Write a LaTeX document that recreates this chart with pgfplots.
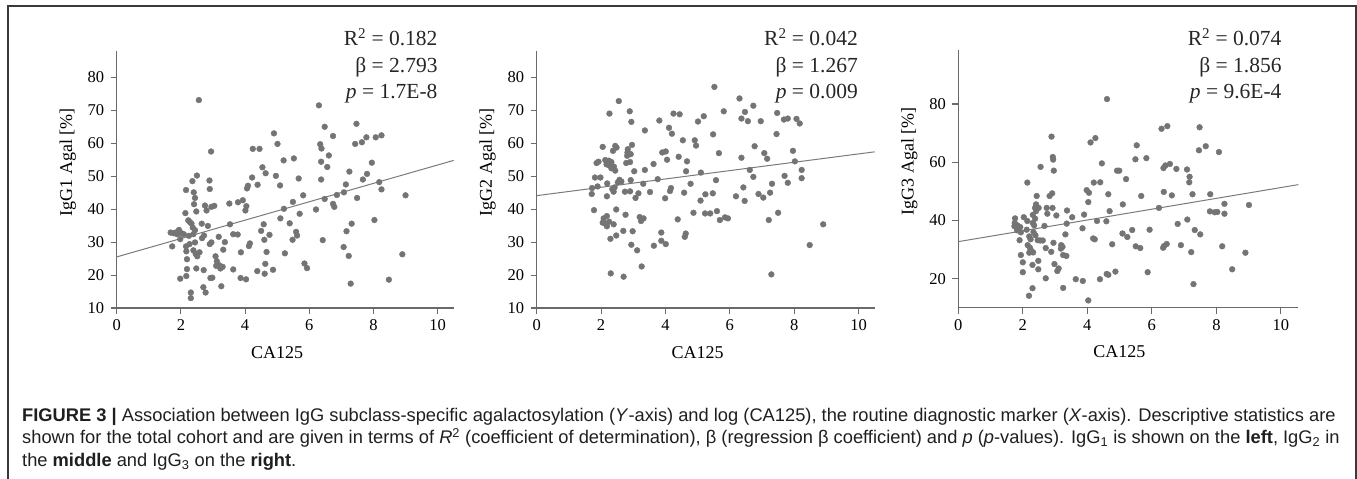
\documentclass[border=0pt]{standalone}
\usepackage{pgfplots}
\pgfplotsset{compat=1.18}
\usepackage{fontspec}
\setmainfont{Liberation Serif}
\newfontfamily\capfont{Liberation Sans}

\definecolor{dotgray}{HTML}{747474}
\definecolor{axgray}{HTML}{6A6A6A}
\definecolor{linegray}{HTML}{7A7A7A}
\definecolor{framegray}{HTML}{3A3A3A}

\pgfplotsset{
  scatterbase/.style={
    scale only axis,
    anchor=south west,
    height=257pt,
    xmin=0, xmax=10.5, ymin=10,
    axis lines=left,
    axis line style={-, draw=axgray, line width=1.3pt},
    tick style={draw=axgray, line width=1.1pt},
    tick align=outside,
    major tick length=6pt,
    xtick={0,2,...,10},
    clip=false,
    /pgf/number format/assume math mode=true,
    tick label style={font=\fontsize{16.5}{18}\selectfont},
    xticklabel style={yshift=-2pt},
    yticklabel style={xshift=-3pt},
    xlabel={CA125},
  },
  ylab/.style={every axis y label/.style={at={(axis description cs:#1,0.568)}, rotate=90, anchor=center, font=\fontsize{18}{20}\selectfont}},
  xlab/.style={every axis x label/.style={at={(axis description cs:#1,-0.195)}, anchor=base, font=\fontsize{18}{20}\selectfont}},
  dots/.style={only marks, mark=*, mark size=2.9pt, color=dotgray, mark options={draw=none, fill=dotgray}},
  fit/.style={no marks, color=linegray, line width=1pt},
}

\begin{document}
\begin{tikzpicture}[x=1pt,y=1pt]
\path[use as bounding box] (0,0) rectangle (1357,479);
\draw[framegray, line width=1.4pt] (8,0) -- (8,473) -- (1356,473) -- (1356,0);

% IgG1
\begin{axis}[scatterbase, at={(116.7pt,171pt)}, width=337pt, ymax=88,
  ytick={10,20,...,80},
  ylabel={IgG1 Agal [\%]}, ylab=-0.145, xlab=0.476]
\addplot[dots] coordinates {
(2.56,73.1)(6.30,71.5)(7.47,65.9)(6.48,65.0)(6.74,62.2)(8.25,62.4)(8.07,61.8)(7.78,61.8)
(7.64,60.3)(7.43,59.8)(6.34,59.7)(6.38,58.4)(6.61,56.3)(4.90,63.0)(5.01,59.8)(4.24,58.3)
(4.45,58.3)(2.94,57.5)(5.20,54.8)(5.52,55.4)(6.37,54.4)(6.56,52.8)(7.95,54.1)(4.54,52.7)
(4.64,50.9)(4.96,50.1)(7.25,51.4)(7.80,50.7)(4.22,49.6)(5.09,47.2)(4.39,47.4)(4.09,47.1)
(4.06,46.3)(5.67,49.3)(6.37,49.0)(7.67,49.0)(8.18,48.2)(7.14,47.5)(8.25,46.0)(2.50,50.2)
(2.36,48.5)(2.89,48.7)(2.90,46.1)(2.16,45.8)(2.40,45.1)(7.08,45.1)(9.00,44.2)(5.81,44.2)
(6.86,44.3)(7.49,43.4)(6.48,43.1)(2.44,43.4)(3.78,42.1)(3.93,42.7)(3.51,41.7)(5.49,42.2)
(6.74,41.6)(6.78,40.7)(2.75,41.1)(3.04,41.0)(2.95,40.7)(2.41,41.5)(4.04,40.9)
(4.01,39.6)(2.14,38.8)(2.48,39.3)(2.80,39.6)(6.21,39.9)(5.70,38.6)(5.21,40.1)(5.10,37.2)
(8.03,36.7)(2.23,36.6)(2.28,36.1)(2.33,35.6)(2.65,35.6)(2.84,34.9)(3.53,35.4)(4.58,35.4)
(5.39,35.7)(7.32,35.6)(2.37,34.4)(2.44,33.6)(1.68,32.9)(1.77,32.7)(1.84,32.9)(1.94,33.7)
(2.02,32.7)(2.09,32.4)(1.88,32.4)(1.98,30.9)(2.39,32.4)(2.25,31.9)(2.72,32.0)(2.66,31.2)
(3.18,31.6)(3.37,30.0)(2.95,29.9)(2.90,29.4)(2.44,29.9)(2.27,29.4)(2.16,28.7)(1.73,28.7)
(4.12,28.8)(4.15,29.6)(3.63,32.4)(3.77,32.3)(4.50,33.4)(4.76,32.2)(5.59,33.1)(5.62,32.0)
(5.48,30.7)(4.60,30.7)(6.42,30.6)(7.16,33.3)(7.07,28.5)(7.23,25.8)(8.90,26.3)(2.17,27.2)
(2.39,27.5)(2.58,26.9)(2.46,26.4)(2.51,25.7)(3.32,27.7)(3.87,26.9)(4.67,27.0)(5.24,26.6)
(3.08,25.7)(2.19,24.8)(3.12,24.2)(3.19,23.0)(3.30,22.5)(3.23,22.0)(3.10,22.8)(4.63,23.4)
(5.85,23.5)(5.93,22.1)(2.19,21.8)(2.48,22.0)(2.71,21.5)(3.63,21.7)(4.38,21.2)(4.61,20.4)
(4.87,21.6)(1.98,18.9)(2.17,19.7)(2.92,19.1)(2.98,19.2)(3.86,19.1)(4.03,18.7)(7.29,17.4)
(8.48,18.6)(2.70,16.3)(3.26,16.6)(2.77,14.7)(2.31,14.7)(2.31,13.0)
};
\addplot[fit] coordinates {(0,25.5) (10.5,54.8)};
\end{axis}

% IgG2
\begin{axis}[scatterbase, at={(536.7pt,171pt)}, width=338pt, ymax=88,
  ytick={10,20,...,80},
  ylabel={IgG2 Agal [\%]}, ylab=-0.145, xlab=0.476]
\addplot[dots] coordinates {
(5.52,77.1)(2.55,72.8)(6.30,73.6)(6.73,71.4)(2.26,69.0)(2.89,69.7)(4.25,69.0)(4.44,68.8)
(5.81,69.7)(6.47,69.5)(7.47,69.2)(5.19,68.2)(6.36,67.5)(6.56,66.7)(6.96,66.7)(7.68,67.2)
(7.80,67.5)(8.07,67.4)(8.17,66.0)(2.94,66.5)(3.81,66.9)(5.01,66.6)(4.11,64.7)(3.36,63.9)
(4.20,62.9)(5.48,62.7)(7.45,62.8)(4.54,60.9)(4.91,60.9)(4.95,59.3)(6.77,59.1)(2.05,58.9)
(2.44,59.2)(2.48,58.7)(2.37,57.7)(2.96,59.5)(2.83,58.2)(2.82,57.2)(2.92,56.7)(2.81,56.2)
(3.90,57.2)(4.01,57.5)(5.66,57.0)(7.07,57.0)(7.16,55.3)(7.96,57.7)(4.05,55.0)(4.41,55.9)
(6.36,55.6)(1.92,54.4)(1.86,54.0)(2.13,54.9)(2.24,54.7)(2.32,54.3)(2.17,53.6)(2.25,53.3)
(2.40,52.9)(2.32,52.4)(2.44,51.7)(2.90,54.3)(2.78,54.0)(3.63,53.7)(4.67,54.5)(8.02,54.5)
(3.03,51.5)(3.36,51.9)(4.64,51.5)(5.10,51.1)(6.62,51.9)(8.23,51.9)(1.81,49.6)(1.98,49.6)
(2.57,48.9)(2.63,48.4)(2.92,48.8)(3.76,49.1)(5.57,48.8)(6.73,49.8)(7.70,50.1)(8.23,49.4)
(2.19,47.8)(2.52,48.1)(3.31,47.7)(4.78,47.7)(7.80,48.0)(7.31,47.7)(1.89,46.9)(2.42,46.6)
(2.35,46.1)(4.17,46.4)(1.72,46.4)(1.71,44.6)(2.39,45.3)(2.74,45.3)(2.90,45.4)(3.16,44.8)
(3.52,45.2)(4.14,45.5)(4.58,45.0)(5.24,44.5)(5.47,44.8)(6.42,46.6)(6.89,44.6)(7.25,45.0)
(2.18,43.9)(3.07,43.4)(3.99,43.3)(5.09,42.6)(6.19,43.9)(6.46,42.5)(7.04,43.5)
(1.78,39.7)(2.47,39.9)(2.76,38.3)(4.87,38.9)(5.23,38.7)(5.39,38.7)(5.60,39.4)(5.69,36.7)
(5.85,37.5)(5.94,37.2)(7.21,36.7)(7.50,38.9)(4.38,36.9)(3.20,37.6)(3.32,37.2)(3.24,36.4)
(2.18,37.9)(2.08,37.2)(2.05,35.9)(2.14,35.6)(2.18,34.8)(2.25,36.2)(2.39,35.4)(2.47,32.0)
(2.29,31.0)(2.69,33.4)(2.98,33.3)(3.87,32.9)(3.87,30.4)(4.01,29.4)(3.64,28.9)(2.94,29.2)
(3.12,27.5)(4.63,32.6)(4.60,31.6)(8.90,35.4)(8.48,29.1)(3.26,22.6)(2.30,20.5)(2.70,19.5)
(7.29,20.2)
};
\addplot[fit] coordinates {(0,44.1) (10.5,57.4)};
\end{axis}

% IgG3
\begin{axis}[scatterbase, at={(958.3pt,171.3pt)}, width=340pt, xmax=10.54, ymax=98.5,
  height=257.5pt,
  ytick={20,40,60,80},
  ylabel={IgG3 Agal [\%]}, ylab=-0.144, xlab=0.474]
\addplot[dots] coordinates {
(4.61,81.7)(6.48,72.4)(6.30,71.5)(7.48,72.0)(2.89,68.8)(4.25,68.3)(4.10,66.8)(5.53,65.8)
(7.67,65.5)(7.46,64.1)(8.08,63.5)(5.83,61.4)(5.49,61.0)(2.93,61.8)(2.94,60.9)(4.45,59.6)
(6.56,59.4)(6.42,58.9)(6.36,58.0)(6.76,57.7)(7.09,57.5)(4.92,57.1)(4.99,57.1)(2.96,57.1)
(2.55,58.4)(7.17,55.0)(7.16,53.1)(5.20,54.2)(4.20,53.0)(4.40,53.1)(2.14,53.0)(3.98,50.4)
(4.05,49.5)(6.37,49.8)(6.62,48.6)(7.26,49.0)(7.81,49.0)(4.65,49.0)(2.91,49.3)(2.83,48.4)
(2.43,48.4)(5.67,48.4)
(2.41,45.5)(2.38,44.3)(2.49,44.3)(2.41,43.2)(4.03,46.3)(5.10,45.5)(8.25,45.7)(9.01,45.3)
(2.74,44.3)(2.92,44.3)(2.76,42.3)(4.69,43.2)(3.37,43.4)(6.22,44.3)(7.80,43.1)(7.95,42.8)
(8.03,42.9)(8.25,42.3)(3.90,42.0)(3.04,41.7)(3.53,41.1)(2.31,41.9)(2.03,41.1)(1.76,40.7)
(2.38,40.6)(2.14,39.8)(2.31,39.1)(1.75,39.1)(1.83,38.3)(1.74,38.0)(1.92,37.7)(1.82,36.6)
(1.94,35.9)(2.12,36.8)(2.35,38.3)(2.67,38.1)(3.36,38.9)(4.30,39.8)(4.59,39.7)(3.85,37.3)
(7.10,40.3)(6.80,38.8)(5.93,36.8)(5.39,36.7)(7.33,36.7)(2.33,36.0)(2.39,34.9)(2.46,33.2)
(2.20,34.5)(2.24,33.5)(1.90,33.2)(2.54,33.1)(2.62,33.1)(3.32,35.2)(4.18,33.8)(4.23,33.5)
(5.09,35.5)(5.24,34.3)(7.50,35.2)(2.95,32.3)(5.50,31.1)(5.64,30.5)(4.77,31.8)(6.46,31.9)
(6.38,31.2)(6.35,30.6)(6.90,31.5)(8.18,31.1)(2.71,30.5)(3.19,31.5)(3.18,30.3)(3.23,30.9)
(2.15,31.5)(2.22,30.6)(2.27,29.5)(2.20,28.9)(2.32,29.0)(2.88,29.2)(7.22,29.1)(8.90,28.9)
(1.94,28.1)(3.25,28.1)(3.35,27.8)(2.00,25.6)(2.48,26.1)(2.98,25.0)(2.30,24.7)(2.48,23.2)
(3.11,23.5)(3.07,22.6)(8.49,23.2)(2.00,22.2)(4.60,21.6)(4.65,21.3)(4.87,22.4)(5.87,22.2)
(2.71,20.1)(3.64,19.8)(3.86,19.2)(4.39,19.8)(7.29,18.1)(2.30,16.7)(3.25,16.8)(2.19,14.1)
(4.03,12.5)
};
\addplot[fit] coordinates {(0,32.7) (10.54,52.3)};
\end{axis}

% statistics
\begin{scope}[every node/.style={anchor=base east, inner sep=0, font=\fontsize{21.5}{24}\selectfont, text=black!85}]
\node at (437.7,433.3) {R\textsuperscript{2} = 0.182};
\node at (437.7,406.7) {β = 2.793};
\node at (437.7,380.7) {\textit{p} = 1.7E-8};
\node at (858,433.3) {R\textsuperscript{2} = 0.042};
\node at (858,406.7) {β = 1.267};
\node at (858,380.7) {\textit{p} = 0.009};
\node at (1281.7,433.3) {R\textsuperscript{2} = 0.074};
\node at (1281.7,406.7) {β = 1.856};
\node at (1281.7,380.7) {\textit{p} = 9.6E-4};
\end{scope}

% caption (base anchor = baseline of the last line)
\node[anchor=base west, align=left, inner sep=0, text=black!88,
  font=\capfont\fontsize{18.3}{22.6}\selectfont] at (22,12.5)
{\textbf{FIGURE 3 |} Association between IgG subclass-specific agalactosylation (\textit{Y}-axis) and log (CA125), the routine diagnostic marker (\textit{X}-axis). Descriptive statistics are\\
shown for the total cohort and are given in terms of \textit{R}\textsuperscript{2} (coefficient of determination), β (regression β coefficient) and \textit{p} (\textit{p}-values). IgG\textsubscript{1} is shown on the \textbf{left}, IgG\textsubscript{2} in\\
the \textbf{middle} and IgG\textsubscript{3} on the \textbf{right}.};
\end{tikzpicture}
\end{document}
